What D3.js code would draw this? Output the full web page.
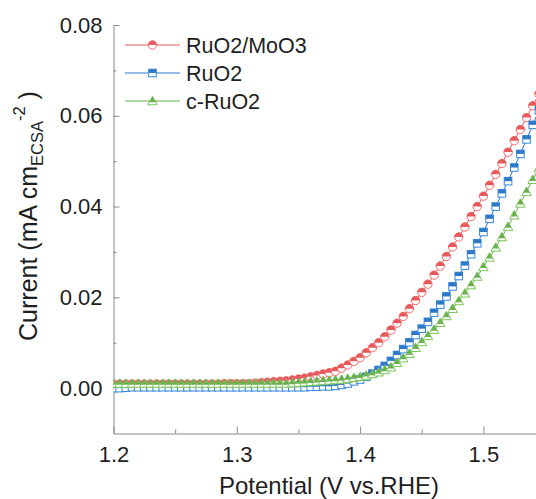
<!DOCTYPE html>
<html>
<head>
<meta charset="utf-8">
<script src="https://cdn.jsdelivr.net/npm/d3@7/dist/d3.min.js"></script>
<style>
  html, body { margin: 0; padding: 0; background: #fff; }
  svg { display: block; font-family: "Liberation Sans", Arial, sans-serif; }
</style>
</head>
<body>
<svg id="chart" width="536" height="499"></svg>
<script>
// ---------- data ----------
const potential = [
  1.200,1.205,1.210,1.215,1.220,1.225,1.230,1.235,1.240,1.245,
  1.250,1.255,1.260,1.265,1.270,1.275,1.280,1.285,1.290,1.295,
  1.300,1.305,1.310,1.315,1.320,1.325,1.330,1.335,1.340,1.345,
  1.350,1.355,1.360,1.365,1.370,1.375,1.380,1.385,1.390,1.395,
  1.400,1.405,1.410,1.415,1.420,1.425,1.430,1.435,1.440,1.445,
  1.450,1.455,1.460,1.465,1.470,1.475,1.480,1.485,1.490,1.495,
  1.500,1.505,1.510,1.515,1.520,1.525,1.530,1.535,1.540,1.545
];
const ruo2MoO3 = [
  0.0009,0.0009,0.0009,0.0009,0.0009,0.0009,0.0009,0.0009,0.0009,0.0009,
  0.0009,0.0009,0.0009,0.0009,0.0009,0.0009,0.0009,0.0009,0.0010,0.0010,
  0.0010,0.0010,0.0010,0.0011,0.0012,0.0013,0.0014,0.0015,0.0016,0.0018,
  0.0020,0.0022,0.0025,0.0028,0.0031,0.0034,0.0037,0.0044,0.0051,0.0059,
  0.0067,0.0078,0.0089,0.0100,0.0113,0.0128,0.0143,0.0158,0.0175,0.0193,
  0.0211,0.0229,0.0249,0.0269,0.0290,0.0311,0.0333,0.0355,0.0378,0.0400,
  0.0423,0.0447,0.0471,0.0495,0.0520,0.0545,0.0570,0.0596,0.0622,0.0648
];
const ruo2 = [
  0.0000,0.0000,0.0001,0.0002,0.0002,0.0002,0.0002,0.0002,0.0002,0.0002,
  0.0002,0.0002,0.0002,0.0002,0.0002,0.0002,0.0002,0.0002,0.0002,0.0002,
  0.0002,0.0002,0.0002,0.0002,0.0002,0.0002,0.0002,0.0002,0.0002,0.0002,
  0.0002,0.0002,0.0003,0.0003,0.0004,0.0004,0.0005,0.0007,0.0010,0.0015,
  0.0019,0.0025,0.0032,0.0040,0.0049,0.0060,0.0073,0.0086,0.0101,0.0117,
  0.0131,0.0146,0.0166,0.0184,0.0202,0.0224,0.0247,0.0270,0.0295,0.0319,
  0.0344,0.0373,0.0400,0.0429,0.0456,0.0486,0.0516,0.0548,0.0580,0.0612
];
const cRuo2 = [
  0.0010,0.0010,0.0010,0.0010,0.0010,0.0010,0.0010,0.0010,0.0010,0.0010,
  0.0010,0.0010,0.0010,0.0010,0.0010,0.0010,0.0010,0.0010,0.0010,0.0010,
  0.0010,0.0010,0.0010,0.0010,0.0010,0.0010,0.0010,0.0010,0.0010,0.0011,
  0.0012,0.0013,0.0014,0.0015,0.0016,0.0017,0.0018,0.0019,0.0021,0.0023,
  0.0025,0.0028,0.0031,0.0035,0.0040,0.0046,0.0056,0.0066,0.0076,0.0089,
  0.0102,0.0115,0.0129,0.0144,0.0159,0.0175,0.0192,0.0209,0.0227,0.0246,
  0.0267,0.0288,0.0310,0.0333,0.0356,0.0381,0.0407,0.0433,0.0459,0.0485
];
const seriesNames = ["RuO2/MoO3", "RuO2", "c-RuO2"];
const seriesColors = ["#e55a5c", "#2f78c6", "#6bb04e"];
const seriesShapes = ["circle", "square", "triangle"];
const xMajorTicks = [1.2, 1.3, 1.4, 1.5];
const xMinorTicks = [1.25, 1.35, 1.45, 1.55];
const yMajorTicks = [0.00, 0.02, 0.04, 0.06, 0.08];
const yMinorTicks = [0.01, 0.03, 0.05, 0.07];
const xTitle = "Potential (V vs.RHE)";

// ---------- layout ----------
const svg = d3.select("#chart");
const W = 536, H = 499;
const plotLeft = 113.5, plotTop = 25, plotBottom = 433.5;
const x = d3.scaleLinear().domain([1.2, 1.6]).range([plotLeft, plotLeft + 4 * 123.3]);
const y = d3.scaleLinear().domain([-0.01, 0.08]).range([plotBottom, plotTop]);
const axisColor = "#8a8a8a";
const textColor = "#1e1e1e";

svg.append("defs").append("clipPath").attr("id", "plotclip")
  .append("rect").attr("x", plotLeft).attr("y", plotTop - 10)
  .attr("width", W - plotLeft).attr("height", plotBottom - plotTop + 10);

// ---------- axes ----------
function styleAxis(g) {
  g.selectAll("path.domain").attr("stroke", axisColor).attr("stroke-width", 1);
  g.selectAll(".tick line").attr("stroke", axisColor).attr("stroke-width", 1);
  g.selectAll(".tick text").attr("fill", textColor).style("font-family", '"Liberation Sans", Arial, sans-serif');
}
const yAxis = svg.append("g").attr("transform", `translate(${plotLeft},0)`)
  .call(d3.axisLeft(y).tickValues(yMajorTicks).tickFormat(d3.format(".2f"))
    .tickSizeInner(-6).tickSizeOuter(0).tickPadding(11))
  .call(styleAxis);
yAxis.selectAll(".tick text").style("font-size", "22px");
svg.append("g").attr("transform", `translate(${plotLeft},0)`)
  .call(d3.axisLeft(y).tickValues(yMinorTicks).tickFormat("").tickSizeInner(-3).tickSizeOuter(0))
  .call(styleAxis).select("path.domain").remove();

const xAxis = svg.append("g").attr("transform", `translate(0,${plotBottom})`)
  .call(d3.axisBottom(x).tickValues(xMajorTicks).tickFormat(d3.format(".1f"))
    .tickSizeInner(-7).tickSizeOuter(0).tickPadding(10))
  .call(styleAxis);
xAxis.selectAll(".tick text").style("font-size", "22px").attr("dy", "0.85em");
svg.append("g").attr("transform", `translate(0,${plotBottom})`)
  .call(d3.axisBottom(x).tickValues(xMinorTicks).tickFormat("").tickSizeInner(-4).tickSizeOuter(0))
  .call(styleAxis).select("path.domain").remove();

// axis titles
svg.append("text").attr("x", 329).attr("y", 494).attr("text-anchor", "middle")
  .attr("fill", textColor).style("font-size", "24px").text(xTitle);

const yt = svg.append("text").attr("transform", "translate(37,216) rotate(-90)")
  .attr("text-anchor", "middle").attr("fill", textColor).style("font-size", "25px");
yt.append("tspan").text("Current (mA cm");
yt.append("tspan").attr("dy", 6).style("font-size", "16.5px").text("ECSA");
yt.append("tspan").attr("dy", -18.5).style("font-size", "16.5px").text("-2");
yt.append("tspan").attr("dy", 12.5).text(" )");

// ---------- markers ----------
function drawMarker(g, shape, color, cx, cy) {
  const stroke = d3.color(color).brighter(0.35).formatHex();
  if (shape === "circle") {
    const r = 4.2;
    g.append("circle").attr("cx", cx).attr("cy", cy).attr("r", r)
      .attr("fill", "#fff").attr("stroke", stroke).attr("stroke-width", 1);
    g.append("path").attr("d", `M${cx - r},${cy} A${r},${r} 0 0 1 ${cx + r},${cy} Z`)
      .attr("fill", color).attr("stroke", "none");
  } else if (shape === "square") {
    const s = 3.8;
    g.append("rect").attr("x", cx - s).attr("y", cy - s).attr("width", 2 * s).attr("height", 2 * s)
      .attr("fill", "#fff").attr("stroke", stroke).attr("stroke-width", 1);
    g.append("rect").attr("x", cx - s).attr("y", cy - s).attr("width", 2 * s).attr("height", s)
      .attr("fill", color).attr("stroke", "none");
  } else {
    const w = 4.8, h = 8.4;
    const apex = cy - h * 0.55, base = cy + h * 0.45;
    g.append("path").attr("d", `M${cx},${apex} L${cx + w},${base} L${cx - w},${base} Z`)
      .attr("fill", "#fff").attr("stroke", stroke).attr("stroke-width", 1);
    const frac = (cy + 1.2 - apex) / (base - apex);
    g.append("path").attr("d", `M${cx},${apex} L${cx + w * frac},${cy + 1.2} L${cx - w * frac},${cy + 1.2} Z`)
      .attr("fill", color).attr("stroke", "none");
  }
}

const allSeries = [ruo2MoO3, ruo2, cRuo2];
const plot = svg.append("g").attr("clip-path", "url(#plotclip)");
const line = d3.line().x(d => x(d[0])).y(d => y(d[1]));
allSeries.forEach((vals, i) => {
  const pts = potential.map((p, k) => [p, vals[k]]);
  const g = plot.append("g");
  g.append("path").attr("d", line(pts)).attr("fill", "none")
    .attr("stroke", seriesColors[i]).attr("stroke-width", 1);
  pts.forEach(p => drawMarker(g, seriesShapes[i], seriesColors[i], x(p[0]), y(p[1])));
});

// ---------- legend ----------
const legendRows = [45, 73, 101];
seriesNames.forEach((name, i) => {
  const g = svg.append("g");
  g.append("line").attr("x1", 125).attr("x2", 180).attr("y1", legendRows[i]).attr("y2", legendRows[i])
    .attr("stroke", seriesColors[i]).attr("stroke-width", 1.2);
  drawMarker(g, seriesShapes[i], seriesColors[i], 152.5, legendRows[i]);
  g.append("text").attr("x", 186).attr("y", legendRows[i]).attr("dy", "0.36em")
    .attr("fill", textColor).style("font-size", "21.5px").text(name);
});
</script>
</body>
</html>
